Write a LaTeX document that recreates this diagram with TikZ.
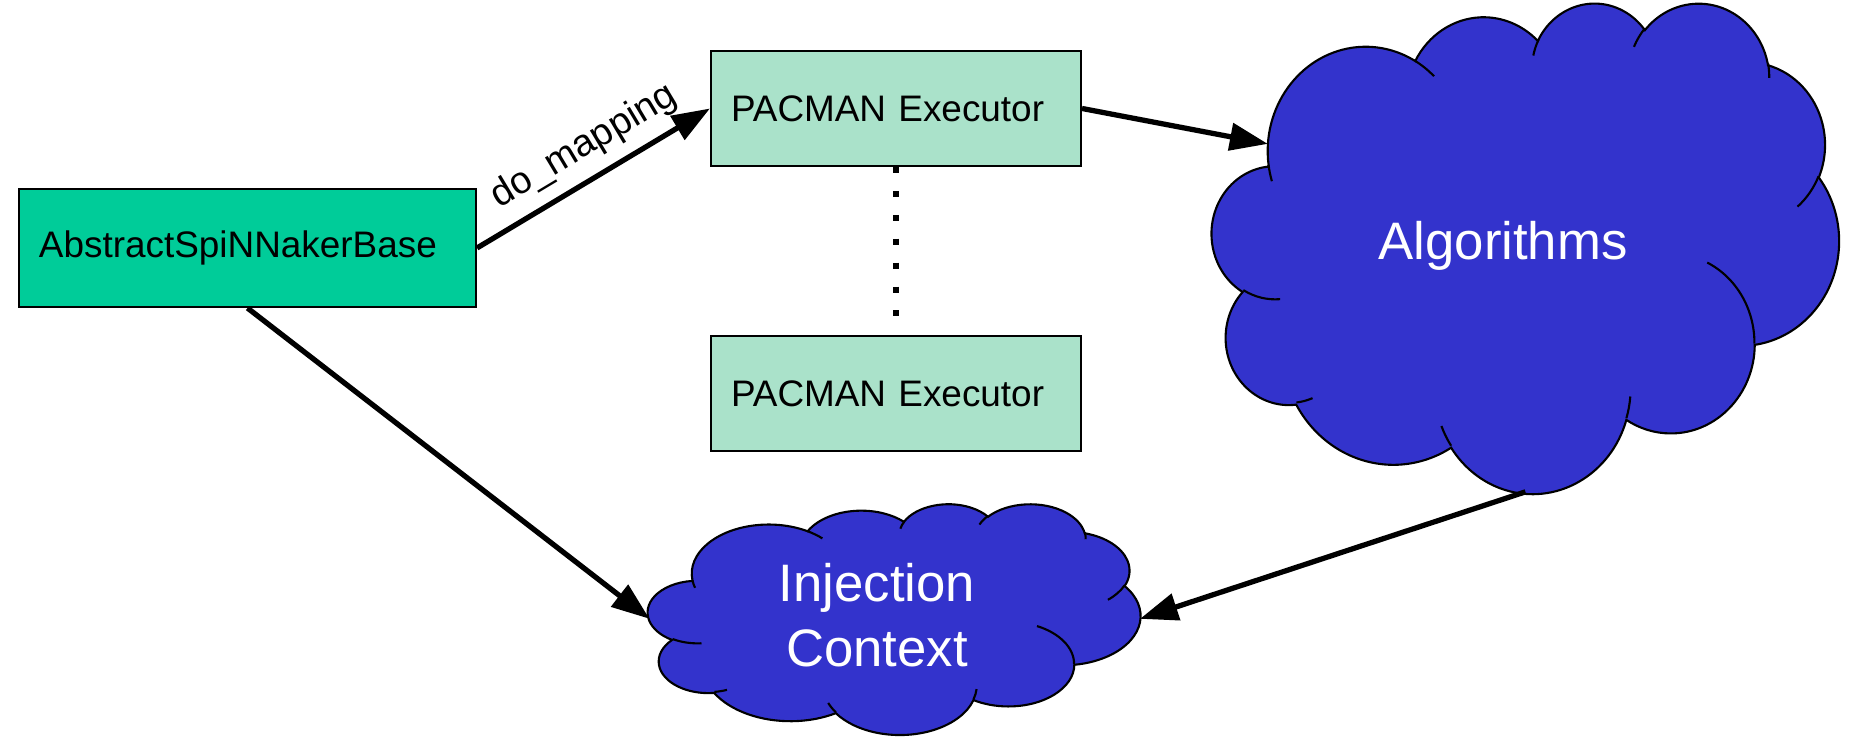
\documentclass[tikz,border=0pt]{standalone}
\usepackage{fontspec}
\setmainfont{Liberation Sans}
\usetikzlibrary{positioning, arrows.meta}
\definecolor{baseGreen}{RGB}{0, 204, 153}
\definecolor{execGreen}{RGB}{170, 226, 202}
\definecolor{cloudBlue}{RGB}{51, 51, 204}
\tikzset{
  baseBox/.style={
    draw=black,
    line width=0.6pt,
    fill=baseGreen,
    minimum width=4.57cm,
    minimum height=1.18cm,
    text width=4.17cm,
    inner xsep=0.2cm,
    align=left,
    font=\fontsize{10.5}{12.6}\selectfont
  },
  execBox/.style={
    baseBox,
    fill=execGreen,
    minimum width=3.70cm,
    minimum height=1.15cm,
    text width=3.30cm
  },
  cloudEdge/.style={
    draw=black,
    line width=0.6pt,
    fill=cloudBlue
  },
  cloudStub/.style={
    draw=black,
    line width=0.6pt
  },
  cloudText/.style={
    text=white,
    align=center,
    font=\fontsize{15}{18.4}\selectfont
  },
  flowArrow/.style={
    -{Triangle[length=3.8mm, width=2.7mm]},
    line width=1.5pt
  },
  dotLine/.style={
    line width=1.7pt,
    dash pattern=on 1.7pt off 5.1pt,
    shorten >=0.15cm
  },
  edgeLabel/.style={
    font=\fontsize{10.8}{13}\selectfont
  }
}
% cloud on a 432 x 432 grid, y pointing down
% arcs: x radius / y radius / start / sweep (angles seen from the centre)
\newcommand{\cloudshape}{%
  \path[cloudEdge] (39,143.7)
    \foreach \rx/\ry/\st/\sw [evaluate=\st as \ps using {atan2(\rx*sin(\st),\ry*cos(\st))},
        evaluate=\sw as \pe using {\ps+mod(atan2(\rx*sin(\st+\sw),\ry*cos(\st+\sw))-\ps+720,360)}]
      in {67.53/91.90/-190.4875/123.7805,
          53.33/72.67/-144.1024/89.9452,
          43.65/59.45/-145.8079/99.7230,
          48.57/65.95/-130.9861/117.2417,
          53.33/72.73/-78.7089/109.0269,
          67.75/92.20/-46.2673/130.2690,
          57.85/78.67/0.6250/114.0333,
          67.52/92.15/22.4516/115.1726,
          77.20/105.43/66.2426/75.7110,
          43.60/59.18/-274.9421/146.7356,
          43.45/59.45/-246.8285/152.5189}
      { arc[x radius=\rx, y radius=\ry, start angle=\ps, end angle=\pe] }
    -- cycle;
  % inner puff lines
  \foreach \x/\y/\rx/\ry/\st/\sw [evaluate=\st as \ps using {atan2(\rx*sin(\st),\ry*cos(\st))},
      evaluate=\sw as \pe using {\ps+mod(atan2(\rx*sin(\st+\sw),\ry*cos(\st+\sw))-\ps+720,360)}]
    in {46.93/261.77/43.45/59.45/86.742/26.4295,
        69.28/348.99/43.60/59.18/73.6105/11.4475,
        164.78/390.90/67.52/92.15/137.6242/14.0811,
        288.27/347.51/67.52/92.15/6.4533/15.9984,
        341.29/229.54/57.85/78.67/-70.2924/70.9174,
        417.98/153.54/53.33/72.73/30.3180/27.7515,
        383.24/54.26/48.57/65.95/-13.7443/14.8589,
        290.78/39.52/48.57/65.95/-149.1815/18.1954,
        221.41/47.20/43.65/59.45/-163.4943/17.6864,
        140.00/51.92/67.53/91.90/-66.7070/12.3194,
        41.27/157.89/67.53/91.90/157.6544/11.8582}
    \draw[cloudStub] (\x,\y) arc[x radius=\rx, y radius=\ry, start angle=\ps, end angle=\pe];
}

\begin{document}
\begin{tikzpicture}
  \useasboundingbox (0,0) rectangle (18.49,7.37);

  % algorithm cloud
  \begin{scope}[shift={(12.12,7.35)}, xscale=6.27/432, yscale=-4.91/432]
    \cloudshape
    \node[cloudText] (algo) at (200.6,215) {Algorithms};
    \coordinate (algoIn) at (38.5,125);
    \coordinate (algoOut) at (216,431.5);
  \end{scope}

  % injection cloud
  \begin{scope}[shift={(6.48,2.335)}, xscale=4.93/432, yscale=-2.31/432]
    \cloudshape
    \node[cloudText] (inj) at (201,209) {Injection\\Context};
    \coordinate (injLeft) at (1.34,216);
    \coordinate (injRight) at (431.6,216);
  \end{scope}

  \node[baseBox] (base) at (2.475,4.89) {AbstractSpiNNakerBase};
  \node[execBox] (exec1) at (8.96,6.285) {PACMAN Executor};
  \node[execBox, below=1.68cm of exec1] (exec2) {PACMAN Executor};

  \draw[dotLine] (exec1.south) -- (exec2.north);

  \draw[flowArrow] (base.east) -- node[pos=0.53, above, sloped, edgeLabel] (mapLabel) {do\_mapping} (exec1.west);
  \draw[flowArrow] (exec1.east) -- (algoIn);
  \draw[flowArrow] (base.south) -- (injLeft);
  \draw[flowArrow] (algoOut) -- (injRight);
\end{tikzpicture}
\end{document}
